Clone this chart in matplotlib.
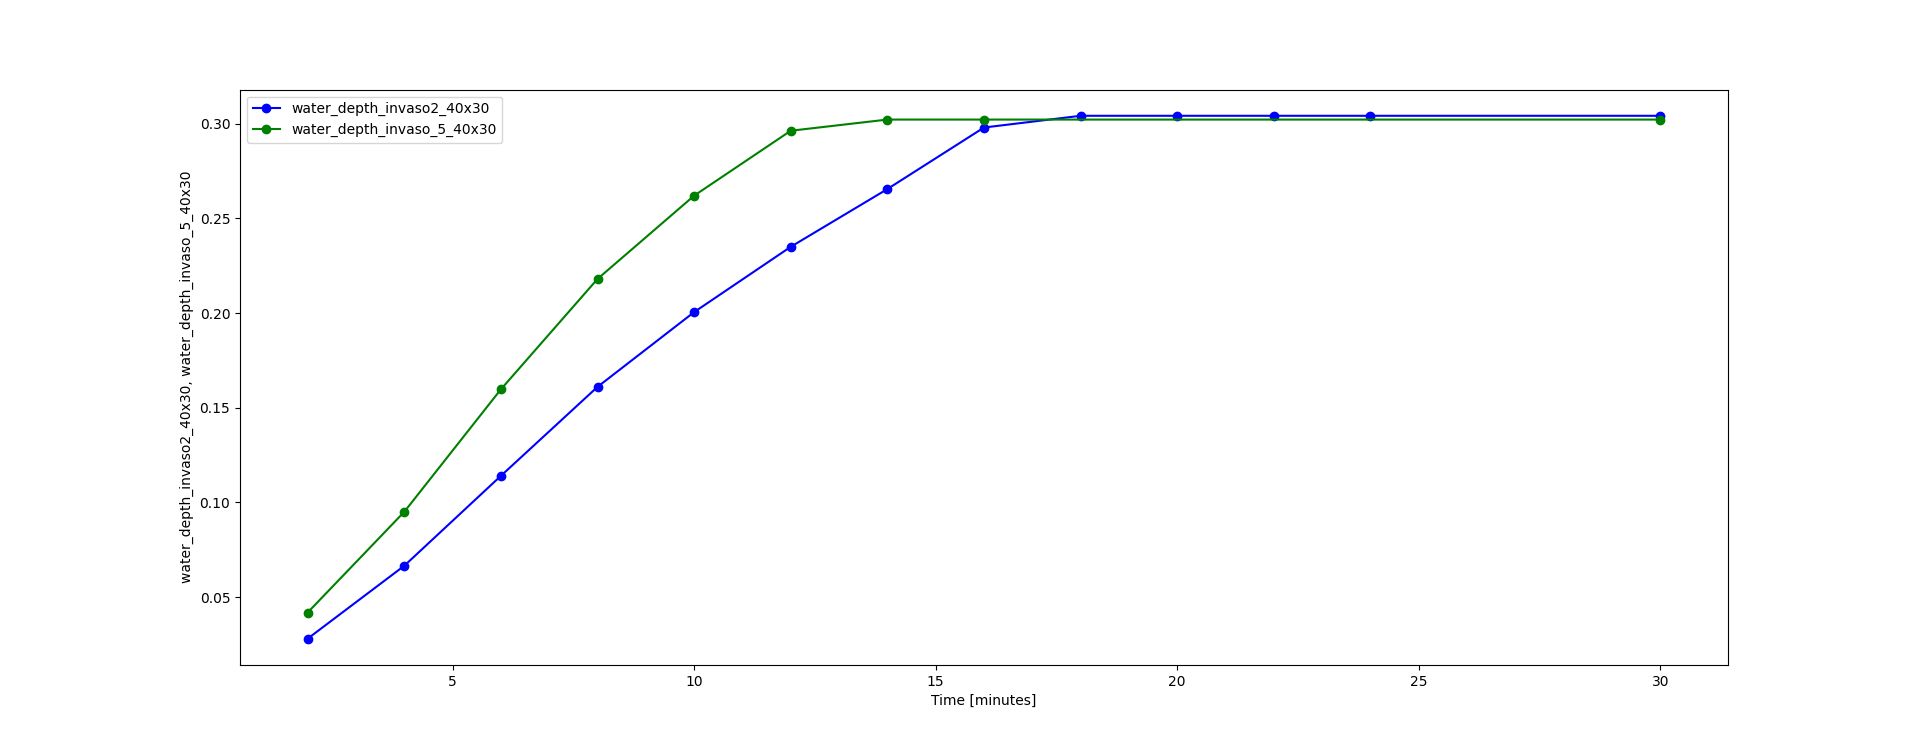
import matplotlib
matplotlib.use("Agg")
import matplotlib.pyplot as plt

# time steps [minutes] and water depths
time_invaso2 = [2, 4, 6, 8, 10, 12, 14, 16, 18, 20, 22, 24, 30]
depth_invaso2 = [0.028, 0.0665, 0.114, 0.161, 0.2005, 0.235, 0.2655, 0.298,
                 0.3042, 0.3042, 0.3042, 0.3042, 0.3042]

time_invaso5 = [2, 4, 6, 8, 10, 12, 14, 16, 30]
depth_invaso5 = [0.0418, 0.095, 0.1597, 0.218, 0.262, 0.2963, 0.3022, 0.3022, 0.3022]

label2 = 'water_depth_invaso2_40x30'
label5 = 'water_depth_invaso_5_40x30'

fig = plt.figure(figsize=(19.2, 7.47), dpi=100)
plt.plot(time_invaso2, depth_invaso2, marker='o', color='blue', label=label2)
plt.plot(time_invaso5, depth_invaso5, marker='o', color='green', label=label5)
plt.xlabel('Time [minutes]')
plt.ylabel(f'{label2}, {label5}')
plt.legend(loc='upper left')
plt.savefig('out.png', dpi=100)
